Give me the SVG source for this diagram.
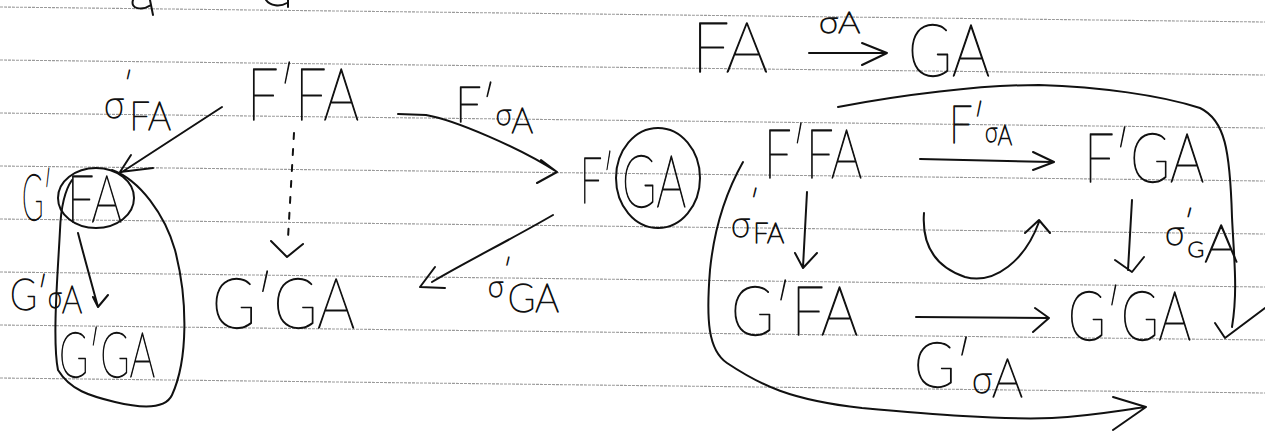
<svg xmlns="http://www.w3.org/2000/svg" width="1265" height="431" viewBox="0 0 1265 431">
<style>
.t{font-family:Lato,"Liberation Sans",sans-serif;font-weight:100;fill:#111;stroke:#111;stroke-width:1.3;stroke-linejoin:round}
.s{fill:none;stroke:#111;stroke-width:2;stroke-linecap:round;stroke-linejoin:round}
.rule{stroke:#9a9a9a;stroke-width:1.1;stroke-dasharray:3 1}
</style>
<rect width="1265" height="431" fill="#fff"/>
<g id="rules">
<line class="rule" x1="0" y1="7" x2="1265" y2="22"/>
<line class="rule" x1="0" y1="60" x2="1265" y2="75"/>
<line class="rule" x1="0" y1="113" x2="1265" y2="128"/>
<line class="rule" x1="0" y1="166" x2="1265" y2="181"/>
<line class="rule" x1="0" y1="219" x2="1265" y2="234"/>
<line class="rule" x1="0" y1="272" x2="1265" y2="287"/>
<line class="rule" x1="0" y1="325" x2="1265" y2="340"/>
<line class="rule" x1="0" y1="378" x2="1265" y2="393"/>
</g>
<g id="top-fragments">
<path class="s" d="M133,0 C130,9 142,11 151,5 M150,0 L153,15"/>
<path class="s" d="M266,0 C270,6 280,7 287,3 M288,0 L288,7"/>
</g>
<!-- left diagram -->
<g id="l-FFA"><text class="t" x="247" y="120" font-size="72" textLength="112" lengthAdjust="spacingAndGlyphs">F′FA</text></g>
<g id="l-GFA">
<text class="t" x="22" y="220" font-size="64" textLength="30" lengthAdjust="spacingAndGlyphs">G′</text>
<text class="t" x="67" y="222" font-size="66" textLength="55" lengthAdjust="spacingAndGlyphs">FA</text>
<ellipse class="s" cx="96" cy="198" rx="38" ry="30"/>
</g>
<g id="l-GGA-small"><text class="t" x="59" y="377" font-size="62" textLength="96" lengthAdjust="spacingAndGlyphs">G′GA</text></g>
<g id="l-GGA"><text class="t" x="212" y="328" font-size="70" textLength="143" lengthAdjust="spacingAndGlyphs">G′GA</text></g>
<g id="l-FGA">
<text class="t" x="580" y="203" font-size="64" textLength="34" lengthAdjust="spacingAndGlyphs">F′</text>
<text class="t" x="622" y="207" font-size="72" textLength="64" lengthAdjust="spacingAndGlyphs">GA</text>
<ellipse class="s" cx="658" cy="178" rx="42" ry="50"/>
</g>
<g id="l-labels">
<text class="t" x="104" y="118" font-size="40" textLength="67" lengthAdjust="spacingAndGlyphs">σ<tspan dy="-24" font-size="30">′</tspan><tspan dx="-3" dy="36" font-size="40">FA</tspan></text>
<text class="t" x="455" y="122" font-size="50" textLength="78" lengthAdjust="spacingAndGlyphs">F′<tspan dy="3" font-size="30">σ</tspan><tspan dy="8" font-size="36">A</tspan></text>
<text class="t" x="10" y="310" font-size="44" textLength="72" lengthAdjust="spacingAndGlyphs">G′<tspan dy="-2" font-size="30">σ</tspan><tspan dy="5" font-size="38">A</tspan></text>
<text class="t" x="488" y="297" font-size="30" textLength="71" lengthAdjust="spacingAndGlyphs">σ<tspan dy="-17" font-size="28">′</tspan><tspan dx="-4" dy="32" font-size="40">GA</tspan></text>
</g>
<!-- right diagram -->
<g id="r-FA"><text class="t" x="692" y="72" font-size="70" textLength="76" lengthAdjust="spacingAndGlyphs">FA</text></g>
<g id="r-GA"><text class="t" x="908" y="76" font-size="72" textLength="82" lengthAdjust="spacingAndGlyphs">GA</text></g>
<g id="r-FFA"><text class="t" x="764" y="178" font-size="68" textLength="98" lengthAdjust="spacingAndGlyphs">F′FA</text></g>
<g id="r-FGA"><text class="t" x="1084" y="182" font-size="68" textLength="120" lengthAdjust="spacingAndGlyphs">F′GA</text></g>
<g id="r-GFA"><text class="t" x="731" y="335" font-size="68" textLength="127" lengthAdjust="spacingAndGlyphs">G′FA</text></g>
<g id="r-GGA"><text class="t" x="1068" y="340" font-size="68" textLength="123" lengthAdjust="spacingAndGlyphs">G′GA</text></g>
<g id="r-labels">
<text class="t" x="819" y="33" font-size="30" textLength="41" lengthAdjust="spacingAndGlyphs">σA</text>
<text class="t" x="949" y="143" font-size="52" textLength="63" lengthAdjust="spacingAndGlyphs">F′<tspan dy="-1" font-size="28">σ</tspan><tspan dy="3" font-size="28">A</tspan></text>
<text class="t" x="731" y="237" font-size="36" textLength="53" lengthAdjust="spacingAndGlyphs">σ<tspan dy="-25" font-size="30">′</tspan><tspan dx="-6" dy="31" font-size="28">FA</tspan></text>
<text class="t" x="1165" y="245" font-size="34" textLength="73" lengthAdjust="spacingAndGlyphs">σ<tspan dy="-13" font-size="30">′</tspan><tspan dx="-6" dy="25" font-size="22">G</tspan><tspan dy="5" font-size="52">A</tspan></text>
<text class="t" x="914" y="387" font-size="62" textLength="109" lengthAdjust="spacingAndGlyphs">G′<tspan dy="6" font-size="40">σ</tspan><tspan dy="4" font-size="54">A</tspan></text>
</g>
<g id="connectors">
<path class="s" d="M222,107 L122,172 M153,168 L120,172 L131,155"/>
<path class="s" d="M398,114 L426,115 C455,120 520,148 557,172 M541,160 L557,172 L537,183"/>
<path class="s" d="M294,133 L288,238" stroke-dasharray="6 10"/>
<path class="s" d="M271,241 L287,257 L303,244"/>
<path class="s" d="M553,215 C510,240 460,265 432,282 M435,267 L420,287 L445,288"/>
<path class="s" d="M78,233 C85,260 92,285 98,307 M93,297 L98,307 L108,295"/>
<path class="s" d="M112,170 C140,180 165,215 175,250 C188,300 188,360 172,395 C165,410 140,408 115,402 C90,396 70,390 58,370 C52,340 58,270 60,230 C61,205 65,190 72,180"/>
<path class="s" d="M809,53 L887,53 M862,43 L887,53 L862,65"/>
<path class="s" d="M920,159 L1052,162 M1033,152 L1054,162 L1033,170"/>
<path class="s" d="M807,192 L803,267 M795,253 L803,268 L817,253"/>
<path class="s" d="M1132,200 L1128,270 M1115,260 L1132,272 L1144,257"/>
<path class="s" d="M916,317 L1047,318 M1035,308 L1049,318 L1033,332"/>
<path class="s" d="M924,213 C922,240 930,265 965,277 C995,285 1025,260 1039,222 M1025,233 L1039,220 L1050,233"/>
<path class="s" d="M838,107 C900,95 980,85 1039,85 C1100,87 1160,95 1200,108 C1225,120 1230,150 1232,217 C1234,260 1238,290 1232,327 M1215,323 L1225,338 L1265,308"/>
<path class="s" d="M743,162 C730,185 715,220 710,270 C706,320 708,350 727,363 C760,385 790,400 862,408 C930,414 1000,420 1052,418 C1090,416 1110,412 1146,407 M1113,397 L1146,407 L1113,430"/>
</g>
</svg>
